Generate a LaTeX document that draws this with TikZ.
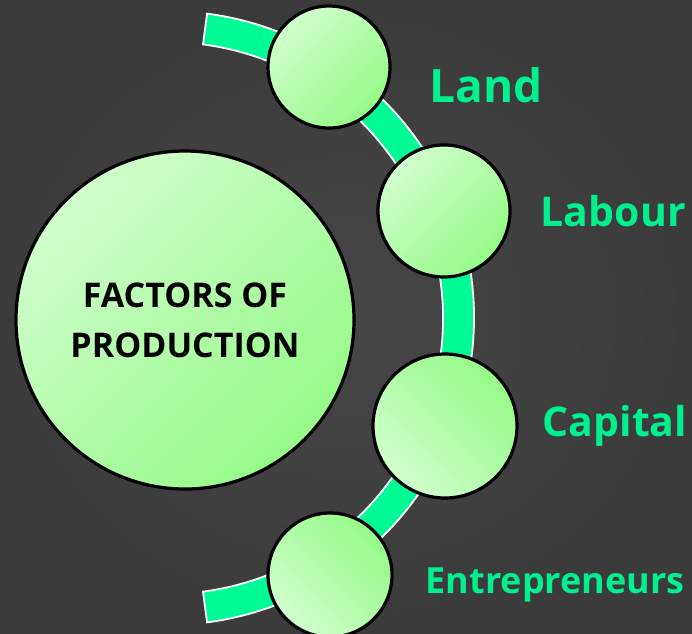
\documentclass[tikz,border=0pt]{standalone}
\usepackage{fontspec}
\usepackage{xcolor}
\setmainfont{Open Sans}
\usetikzlibrary{positioning}

\definecolor{bgdark}{HTML}{3B3B3B}
\definecolor{bgmid}{HTML}{464646}
\definecolor{bandgreen}{HTML}{00FA96}
\definecolor{textgreen}{HTML}{00F090}
\definecolor{palegreen}{HTML}{D0FFCC}
\definecolor{leafgreen}{HTML}{96FA88}

\begin{document}
\begin{tikzpicture}[
    x=1pt, y=-1pt,
    ball/.style={draw=black, line width=3.2pt, circle, inner sep=0pt,
                 top color=palegreen, bottom color=leafgreen, shading angle=45},
    ballup/.style={ball, shading angle=135},
    band/.style={fill=bandgreen, draw=white, line width=1.8pt},
    label/.style={text=textgreen, font=\bfseries, inner sep=0pt}
]
% background
\fill[inner color=bgmid, outer color=bgdark] (0,0) rectangle (692,633);
\useasboundingbox (0,0) rectangle (692,633);

\node[ball, minimum size=338pt, align=center, font=\fontsize{34}{50}\selectfont\bfseries]
    (factors) at (185,320) {FACTORS OF\\PRODUCTION};

% the curved band behind the small circles
\coordinate (hub) at (167,318);
\draw[band] ([shift={(-82.5:307)}]hub) arc[start angle=-82.5, end angle=82.5, radius=307]
    -- ([shift={(82.5:276)}]hub) arc[start angle=82.5, end angle=-82.5, radius=276] -- cycle;

\node[ball, minimum size=122pt] (land) at (329,67) {};
\node[ball, minimum size=132pt] (labour) at (444,211) {};
\node[ballup, minimum size=144pt] (capital) at (445,426) {};
\node[ballup, minimum size=124pt] (entre) at (330,575) {};

\node[label, font=\fontsize{46}{50}\selectfont\bfseries, right=38pt of land, yshift=-18pt] (landtxt) {Land};
\node[label, font=\fontsize{41}{46}\selectfont\bfseries, right=29pt of labour] (labourtxt) {Labour};
\node[label, font=\fontsize{41}{46}\selectfont\bfseries, right=24pt of capital] (capitaltxt) {Capital};
\node[label, font=\fontsize{36}{40}\selectfont\bfseries, right=32pt of entre, yshift=-10pt] (entretxt) {Entrepreneurs};
\end{tikzpicture}
\end{document}
